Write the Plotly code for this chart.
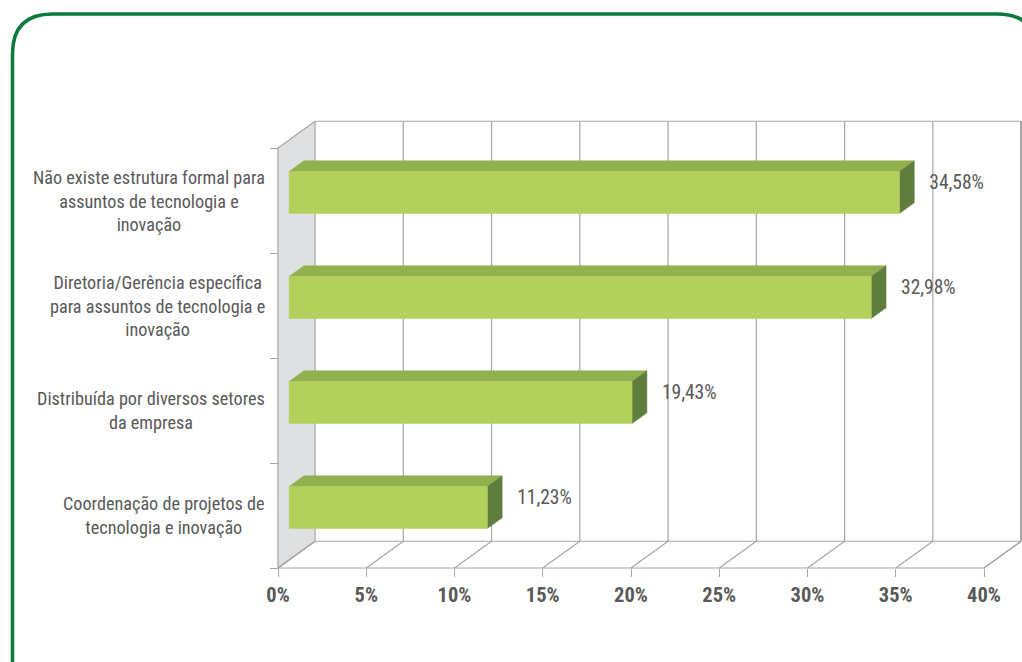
import plotly.graph_objects as go

# ---------------- data ----------------
categories = [
    "Coordenação de projetos de<br>tecnologia e inovação",
    "Distribuída por diversos setores<br>da empresa",
    "Diretoria/Gerência específica<br>para assuntos de tecnologia e<br>inovação",
    "Não existe estrutura formal para<br>assuntos de tecnologia e<br>inovação",
]
values = [11.23, 19.43, 32.98, 34.58]
tick_vals = [0, 5, 10, 15, 20, 25, 30, 35, 40]
tick_labels = ["0%", "5%", "10%", "15%", "20%", "25%", "30%", "35%", "40%"]

# ---------------- geometry / style ----------------
W, H = 1022, 662
PX_PER_PCT = 17.65
PX_PER_CAT = 105.0
X0PX, Y0PX = 278.0, 568.0
DX = 2.1      # depth offset in % units
DY = 0.255    # depth offset in category units
F0, F1 = 0.3, 0.7
HALF = 0.2

FONT = "Liberation Sans Narrow, Arial Narrow, Roboto Condensed, sans-serif"
TXT = "#595959"
GRID = "#a6a6a6"
FRONT = "#b2d05b"
TOP = "#91b14e"
SIDE = "#5f7e3d"
WALL = "#dfe0e2"
FRAME = "#0b7a3d"

xr = [-X0PX / PX_PER_PCT, (W - X0PX) / PX_PER_PCT]
yr = [-(H - Y0PX) / PX_PER_CAT, Y0PX / PX_PER_CAT]

fig = go.Figure()


def poly(xs, ys, fill, line, width=1.0):
    fig.add_trace(go.Scatter(
        x=list(xs) + [xs[0]], y=list(ys) + [ys[0]], mode="lines",
        fill="toself", fillcolor=fill, line=dict(color=line, width=width),
        hoverinfo="skip", showlegend=False))


def lines(xs, ys, color=GRID, width=1.2):
    fig.add_trace(go.Scatter(x=xs, y=ys, mode="lines",
                             line=dict(color=color, width=width),
                             hoverinfo="skip", showlegend=False))


n = len(categories)
xmax = tick_vals[-1]

# left wall
poly([0, DX, DX, 0], [0, DY, n + DY, n], WALL, GRID, 1.2)
# floor
poly([0, xmax, xmax + DX, DX], [0, 0, DY, DY], "white", GRID, 1.2)

# back wall gridlines + floor diagonals
gx, gy = [], []
for t in tick_vals[1:]:
    gx += [t + DX, t + DX, None]
    gy += [DY, n + DY, None]
for t in tick_vals:
    gx += [t, t + DX, None]
    gy += [0, DY, None]
gx += [DX, xmax + DX, None]
gy += [n + DY, n + DY, None]
lines(gx, gy)
lines([xmax + DX, xmax + DX], [DY, n + DY], GRID, 2)

# bars
for i, v in enumerate(values):
    yc = i + 0.5
    poly([F0 * DX, v + F0 * DX, v + F1 * DX, F1 * DX],
         [yc + HALF + F0 * DY, yc + HALF + F0 * DY, yc + HALF + F1 * DY, yc + HALF + F1 * DY],
         TOP, TOP, 0.5)
    poly([v + F0 * DX, v + F1 * DX, v + F1 * DX, v + F0 * DX],
         [yc - HALF + F0 * DY, yc - HALF + F1 * DY, yc + HALF + F1 * DY, yc + HALF + F0 * DY],
         SIDE, SIDE, 0.5)
    poly([F0 * DX, v + F0 * DX, v + F0 * DX, F0 * DX],
         [yc - HALF + F0 * DY, yc - HALF + F0 * DY, yc + HALF + F0 * DY, yc + HALF + F0 * DY],
         FRONT, FRONT, 0.5)

# value labels
fig.add_trace(go.Scatter(
    x=[v + F1 * DX + 0.85 for v in values],
    y=[i + 0.5 + 0.16 for i in range(n)],
    mode="text",
    text=[("%.2f%%" % v).replace(".", ",") for v in values],
    textposition="middle right",
    textfont=dict(family=FONT, size=19.5, color=TXT),
    hoverinfo="skip", showlegend=False))

# category labels
for i, c in enumerate(categories):
    fig.add_annotation(x=-0.62, y=i + 0.5, xref="x", yref="y", text=c,
                       showarrow=False, xanchor="right", yanchor="middle",
                       align="center",
                       font=dict(family=FONT, size=18.2, color=TXT))

# rounded frame (decoration)
def fx(p):
    return p / W


def fy(p):
    return 1 - p / H


L, T, R, B, r = 12.5, 14.0, 1037.0, 720.0, 40.0
path = (f"M {fx(L)},{fy(B)} L {fx(L)},{fy(T + r)} "
        f"Q {fx(L)},{fy(T)} {fx(L + r)},{fy(T)} "
        f"L {fx(R - r)},{fy(T)} Q {fx(R)},{fy(T)} {fx(R)},{fy(T + r)} "
        f"L {fx(R)},{fy(B)}")
fig.add_shape(type="path", path=path, xref="paper", yref="paper",
              line=dict(color=FRAME, width=3.5), layer="below")

posx = (0 - yr[0]) / (yr[1] - yr[0])
posy = (0 - xr[0]) / (xr[1] - xr[0])

fig.update_layout(
    width=W, height=H,
    margin=dict(l=0, r=0, t=0, b=0),
    paper_bgcolor="white", plot_bgcolor="white",
    showlegend=False,
    xaxis=dict(range=xr, showgrid=False, zeroline=False, showline=False,
               tickmode="array", tickvals=tick_vals, ticktext=tick_labels,
               ticks="outside", ticklen=8, tickwidth=1.2, tickcolor=GRID,
               tickfont=dict(family=FONT, size=20.5, color=TXT, weight="bold"),
               anchor="free", position=posx, fixedrange=True),
    yaxis=dict(range=yr, showgrid=False, zeroline=False, showline=False,
               tickmode="array", tickvals=list(range(n + 1)),
               ticks="outside", ticklen=8, tickwidth=1.2, tickcolor=GRID,
               showticklabels=False,
               anchor="free", position=posy, fixedrange=True),
)

fig.write_html("out.html", config={"displayModeBar": False},
               post_script="document.body.style.margin='0px';document.body.style.overflow='hidden';")
